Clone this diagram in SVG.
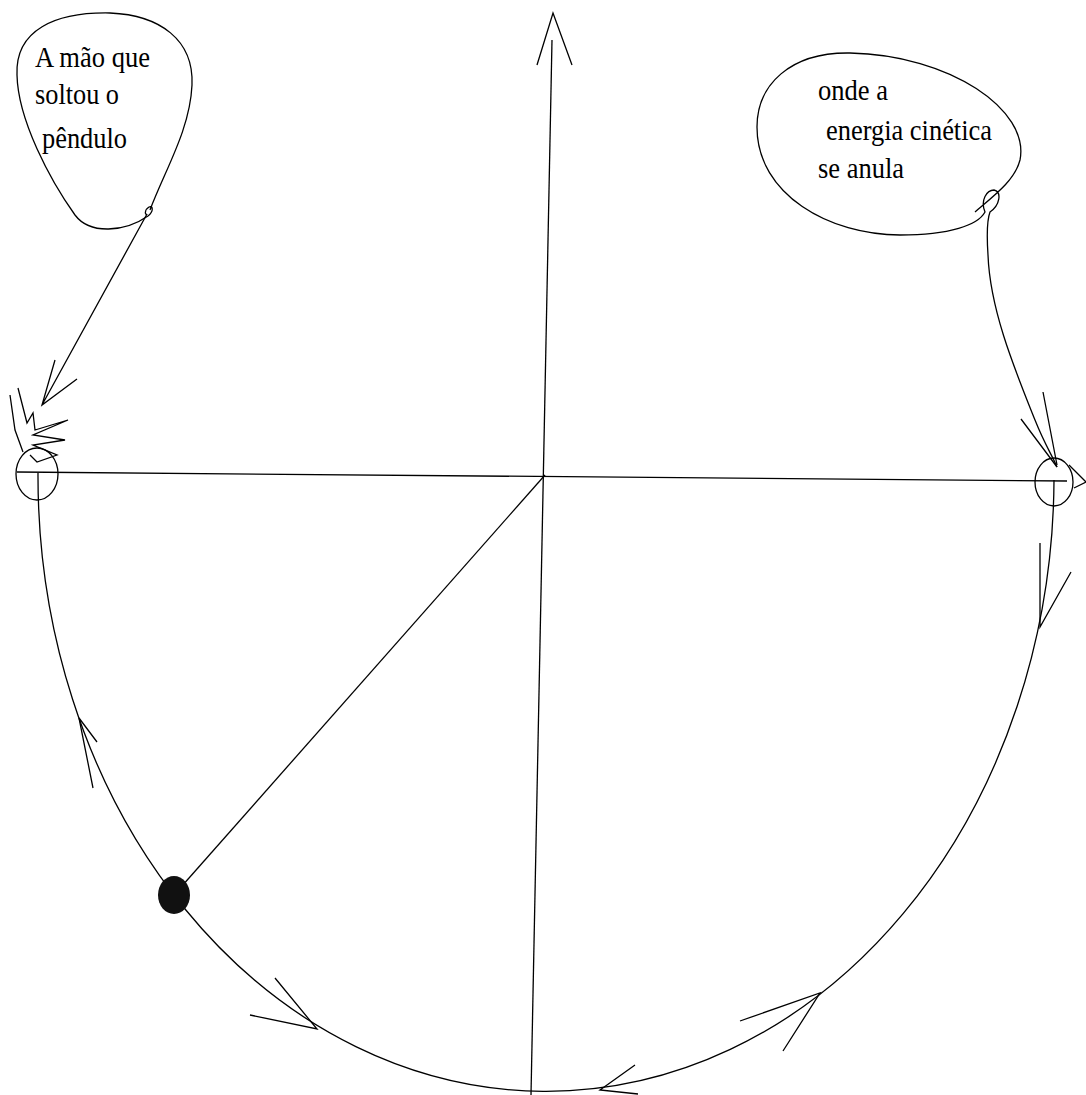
<svg xmlns="http://www.w3.org/2000/svg" width="1086" height="1095" viewBox="0 0 1086 1095">
<style>
.s{fill:none;stroke:#000;stroke-width:1.3;stroke-linejoin:miter}
</style>
<rect width="1086" height="1095" fill="#fff"/>
<g id="connectors">
<path class="s" d="M552,40 L531,1095"/>
<path class="s" d="M537,65 L553,13 L572,65"/>
<path class="s" d="M17,472 L1067,481"/>
<path class="s" d="M1069,465 L1086,482 L1074,488"/>
<path class="s" d="M545,475 L174,895"/>
<path id="arc" class="s" d="M38,473 A508,615 0 0 0 1054,480"/>
<path class="s" d="M97,742 L79,718 L93,788"/>
<path class="s" d="M275,978 L317,1029 L250,1015"/>
<path class="s" d="M635,1065 L600,1090 L638,1094"/>
<path class="s" d="M740,1021 L820,993 L783,1051"/>
<path class="s" d="M1040,543 L1040,627 L1071,572"/>
<path class="s" d="M1021,419 L1057,467 M1043,392 L1057,465"/>
<path class="s" d="M147,214 L42,405 M77,379 L42,405 L55,360"/>
<path class="s" d="M10,395 L15,430 L23,452"/>
<path class="s" d="M18,388 L27,423 L33,413 L35,430 L68,420 L33,435 L65,440 L33,445 L57,455 L37,462 L30,455"/>
</g>
<g id="balloon-left" font-family="Liberation Serif, Times New Roman, DejaVu Serif, serif" font-size="29" fill="#000">
<path class="s" d="M150,210 C165,170 190,130 192,85 C194,40 160,15 110,13 C55,12 15,30 17,75 C18,120 50,180 75,215 C90,235 125,232 148,216 C154,211 153,205 149,207 C144,210 145,216 147,214"/>
<text x="35" y="67" textLength="115" lengthAdjust="spacingAndGlyphs">A mão que</text>
<text x="35" y="104" textLength="84" lengthAdjust="spacingAndGlyphs">soltou o</text>
<text x="42" y="148" textLength="85" lengthAdjust="spacingAndGlyphs">pêndulo</text>
</g>
<g id="balloon-right" font-family="Liberation Serif, Times New Roman, DejaVu Serif, serif" font-size="29" fill="#000">
<path class="s" d="M975,212 C995,195 1015,180 1020,160 C1030,110 950,55 850,53 C790,52 757,85 757,127 C757,195 830,235 900,235 C950,235 978,225 985,212 C980,200 987,190 994,190 C1002,192 1000,205 990,212 C987,220 987,240 988,255 C990,310 1015,370 1035,420 C1045,445 1052,455 1057,467"/>
<text x="818" y="100" textLength="70" lengthAdjust="spacingAndGlyphs">onde a</text>
<text x="826" y="140" textLength="166" lengthAdjust="spacingAndGlyphs">energia cinética</text>
<text x="818" y="178" textLength="86" lengthAdjust="spacingAndGlyphs">se anula</text>
</g>
<g id="circle-left"><ellipse class="s" cx="37" cy="474" rx="21" ry="26"/></g>
<g id="circle-right"><ellipse class="s" cx="1054" cy="482" rx="19" ry="24"/></g>
<g id="bob"><ellipse cx="174" cy="895" rx="16" ry="19" fill="#111"/></g>
</svg>
